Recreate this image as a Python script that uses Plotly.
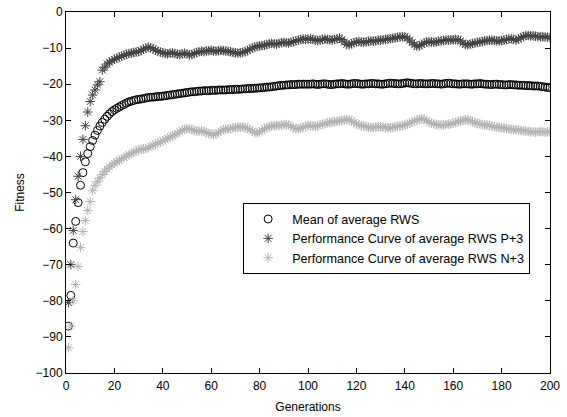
import plotly.graph_objects as go

generations = list(range(1, 201))

mean_rws = [
    -87.0, -78.5, -64.0, -58.0, -52.8, -48.0, -44.5, -41.5, -39.2, -37.3,
    -35.6, -34.1, -32.8, -31.6, -30.6, -29.7, -28.9, -28.2, -27.6, -27.1,
    -26.7, -26.3, -25.9, -25.6, -25.2, -24.9, -24.7, -24.5, -24.3, -24.2,
    -24.1, -24.0, -23.8, -23.7, -23.6, -23.6, -23.5, -23.4, -23.4, -23.3,
    -23.2, -23.1, -23.0, -22.9, -22.8, -22.7, -22.6, -22.5, -22.4, -22.3,
    -22.2, -22.1, -22.1, -22.0, -21.9, -21.9, -21.8, -21.8, -21.8, -21.7,
    -21.7, -21.7, -21.6, -21.6, -21.6, -21.6, -21.5, -21.5, -21.5, -21.4,
    -21.4, -21.4, -21.3, -21.3, -21.2, -21.2, -21.2, -21.1, -21.1, -21.0,
    -21.0, -20.9, -20.8, -20.8, -20.7, -20.6, -20.5, -20.4, -20.3, -20.3,
    -20.2, -20.2, -20.1, -20.1, -20.1, -20.0, -20.0, -20.0, -20.0, -20.0,
    -20.0, -19.9, -20.0, -20.1, -20.0, -19.9, -19.9, -20.0, -20.1, -20.1,
    -20.0, -19.9, -19.9, -19.8, -19.9, -20.0, -20.0, -19.9, -19.8, -19.8,
    -19.9, -20.0, -20.0, -19.9, -19.9, -19.8, -19.8, -19.9, -19.9, -20.0,
    -20.0, -19.9, -19.8, -19.7, -19.8, -19.8, -19.9, -19.9, -19.8, -19.7,
    -19.6, -19.7, -19.8, -19.9, -19.9, -19.8, -19.8, -19.9, -19.9, -19.9,
    -19.8, -19.8, -19.9, -19.9, -20.0, -19.9, -19.8, -19.7, -19.8, -19.9,
    -19.9, -20.0, -20.0, -19.9, -19.9, -19.9, -20.0, -20.0, -19.9, -19.9,
    -19.8, -19.9, -20.0, -20.0, -20.1, -20.1, -20.0, -20.0, -20.1, -20.1,
    -20.2, -20.2, -20.1, -20.1, -20.2, -20.2, -20.3, -20.3, -20.3, -20.4,
    -20.4, -20.4, -20.5, -20.5, -20.5, -20.6, -20.7, -20.8, -20.9, -21.0,
]

rws_p3 = [
    -80.5, -70.0, -60.5, -52.0, -45.5, -40.0, -35.3, -31.5, -27.7, -24.8,
    -23.0, -21.6, -20.2, -19.3, -16.1, -15.3, -14.4, -13.9, -13.5, -13.1,
    -12.8, -12.5, -12.2, -12.0, -11.7, -11.5, -11.4, -11.2, -11.1, -11.0,
    -10.7, -10.3, -10.0, -9.7, -9.9, -10.2, -10.6, -10.9, -11.1, -11.3,
    -11.5, -11.6, -11.4, -11.3, -11.5, -11.7, -11.8, -11.6, -11.4, -11.6,
    -11.9, -11.8, -11.5, -11.2, -11.0, -10.9, -11.0, -10.8, -10.7, -10.6,
    -10.8, -10.9, -10.7, -10.6, -10.7, -10.8, -10.9, -11.0, -11.2, -11.3,
    -11.4, -11.3, -11.2, -11.0, -10.7, -10.3, -10.0, -9.7, -9.5, -9.4,
    -9.3, -9.2, -9.0, -8.8, -8.7, -8.8, -8.9, -8.7, -8.5, -8.4,
    -8.5, -8.6, -8.4, -8.2, -8.0, -7.8, -7.6, -7.5, -7.6, -7.5,
    -7.4, -7.6, -7.8, -7.9, -7.8, -7.6, -7.5, -7.6, -7.7, -7.8,
    -7.6, -7.4, -7.3, -7.6, -8.3, -9.0, -9.1, -8.8, -8.5, -8.3,
    -8.2, -8.3, -8.4, -8.3, -8.1, -8.0, -8.1, -8.0, -7.8, -7.8,
    -7.7, -7.6, -7.5, -7.4, -7.3, -7.2, -7.0, -6.9, -6.8, -6.9,
    -7.2, -7.8, -8.5, -9.1, -9.5, -9.4, -9.0, -8.6, -8.3, -8.2,
    -8.3, -8.4, -8.3, -8.1, -8.0, -7.9, -7.8, -7.8, -7.7, -7.7,
    -7.6, -7.7, -8.0, -8.6, -9.0, -9.1, -8.9, -8.7, -8.6, -8.4,
    -8.3, -8.2, -8.0, -7.9, -7.8, -7.8, -7.9, -8.0, -8.0, -7.9,
    -7.8, -7.6, -7.5, -7.4, -7.6, -7.8, -7.5, -7.1, -6.8, -6.5,
    -6.5, -6.6, -6.6, -6.7, -6.8, -6.9, -6.8, -6.9, -7.0, -7.1,
]

rws_n3 = [
    -93.0, -87.0, -80.0, -75.5, -70.5, -65.2, -60.8, -57.8, -55.0, -52.5,
    -49.5, -48.0, -47.0, -46.0, -45.0, -44.2, -43.5, -42.9, -42.4, -41.9,
    -41.5, -41.1, -40.7, -40.3, -39.9, -39.5, -39.1, -38.8, -38.5, -38.2,
    -38.0, -37.9, -37.9, -37.6, -37.2, -36.9, -36.6, -36.3, -36.0, -35.7,
    -35.4, -35.0, -34.6, -34.3, -34.0, -33.6, -33.2, -32.8, -32.5, -32.3,
    -32.4, -32.6, -32.8, -33.0, -33.0, -32.9, -33.1, -33.4, -33.7, -33.8,
    -34.0, -33.8, -33.4, -33.0, -32.6, -32.4, -32.5, -32.3, -32.1, -32.0,
    -31.9, -31.9, -31.8, -32.0, -32.2, -32.6, -33.0, -33.4, -33.6, -33.2,
    -32.8, -32.3, -32.0, -31.8, -31.6, -31.5, -31.4, -31.5, -31.3, -31.2,
    -31.2, -31.3, -31.6, -32.0, -32.3, -32.4, -32.2, -31.9, -31.7, -31.5,
    -31.5, -31.6, -31.7, -31.5, -31.3, -31.1, -30.9, -30.7, -30.6, -30.5,
    -30.4, -30.3, -30.2, -30.0, -29.9, -29.8, -29.9, -30.2, -30.6, -31.0,
    -31.3, -31.5, -31.6, -31.8, -31.9, -32.0, -32.0, -31.9, -31.8, -31.8,
    -31.9, -32.0, -32.1, -32.1, -32.0, -31.8, -31.7, -31.6, -31.4, -31.3,
    -31.1, -30.8, -30.5, -30.2, -29.9, -29.7, -29.5, -29.7, -30.1, -30.5,
    -30.8, -31.0, -31.2, -31.3, -31.3, -31.2, -31.2, -31.1, -31.0, -30.8,
    -30.6, -30.4, -30.2, -30.0, -29.9, -29.9, -30.1, -30.4, -30.7, -30.9,
    -31.0, -31.2, -31.3, -31.3, -31.4, -31.6, -31.8, -31.9, -32.0, -32.1,
    -32.2, -32.3, -32.4, -32.5, -32.6, -32.6, -32.7, -32.8, -32.9, -33.0,
    -33.1, -33.2, -33.2, -33.3, -33.2, -33.1, -33.2, -33.3, -33.2, -33.3,
]

series_names = [
    "Mean of average RWS",
    "Performance Curve of average RWS P+3",
    "Performance Curve of average RWS N+3",
]

x_ticks = list(range(0, 201, 20))
y_ticks = list(range(-100, 1, 10))

FONT = "Liberation Sans, Arial, sans-serif"

fig = go.Figure()
fig.add_trace(go.Scatter(
    x=generations, y=mean_rws, mode="markers", name=series_names[0],
    marker=dict(symbol="circle-open", size=8, color="#000000",
                line=dict(width=1, color="#000000")),
))
fig.add_trace(go.Scatter(
    x=generations, y=rws_p3, mode="markers", name=series_names[1],
    marker=dict(symbol="asterisk-open", size=8, color="#404040",
                line=dict(width=1, color="#404040")),
))
fig.add_trace(go.Scatter(
    x=generations, y=rws_n3, mode="markers", name=series_names[2],
    marker=dict(symbol="asterisk-open", size=8, color="#b3b3b3",
                line=dict(width=1, color="#b3b3b3")),
))

axis_common = dict(
    showline=True, linecolor="#000000", linewidth=1, mirror="ticks",
    ticks="inside", ticklen=5, tickcolor="#000000", tickwidth=1,
    showgrid=False, zeroline=False,
    tickfont=dict(family=FONT, size=12, color="#000000"),
)

fig.update_layout(
    width=567, height=417,
    margin=dict(l=66, r=17, t=12, b=44, autoexpand=False),
    paper_bgcolor="#ffffff", plot_bgcolor="#ffffff",
    font=dict(family=FONT, size=12, color="#000000"),
    xaxis=dict(range=[0, 200], tickvals=x_ticks, ticklabelstandoff=2,
               title=dict(text="Generations", standoff=10,
                          font=dict(family=FONT, size=12)),
               **axis_common),
    yaxis=dict(range=[-100, 0], tickvals=y_ticks,
               title=dict(text="Fitness", standoff=8,
                          font=dict(family=FONT, size=12)),
               **axis_common),
    legend=dict(x=0.366, y=0.47, xanchor="left", yanchor="top",
                bordercolor="#000000", borderwidth=1, bgcolor="#ffffff",
                font=dict(family=FONT, size=12.6, color="#000000"),
                itemwidth=38, tracegroupgap=0),
    showlegend=True,
)

fig.write_html("out.html")
